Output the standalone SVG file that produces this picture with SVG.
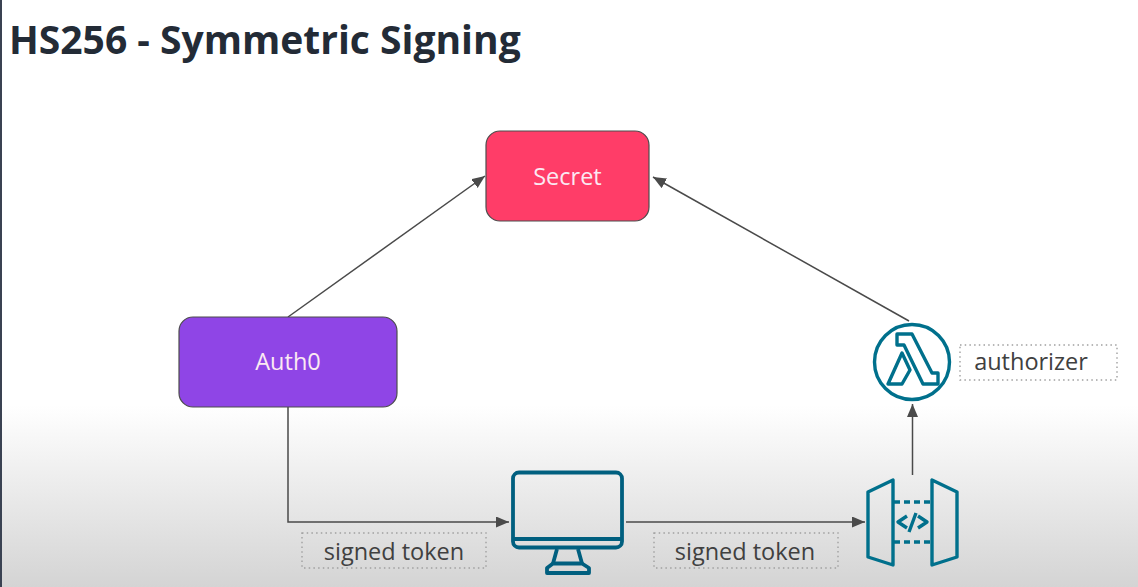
<svg xmlns="http://www.w3.org/2000/svg" width="1138" height="587" viewBox="0 0 1138 587">
<style>
.box{stroke:#4d4d4d;stroke-width:1.2}
.lbl{font-family:"Open Sans","Noto Sans",sans-serif;font-size:23.500px;text-anchor:middle}
.w{fill:#fbe9f2}
.d{fill:#404040}
.dot{fill:none;stroke:#a0a0a0;stroke-width:1.4;stroke-dasharray:1.5 3.2}
.ic{fill:none;stroke:#00708c;stroke-width:3.4;stroke-linejoin:round}
.ic2{fill:none;stroke:#005f7f;stroke-width:3.8;stroke-linejoin:round}
.c{fill:none;stroke:#4a4a4a;stroke-width:1.5;marker-end:url(#a)}
</style>
<defs>
<linearGradient id="bg" x1="0" y1="0" x2="0" y2="1"><stop offset="0" stop-color="#ffffff"/><stop offset="0.69" stop-color="#ffffff"/><stop offset="1" stop-color="#d4d4d4"/></linearGradient>
<marker id="a" markerUnits="userSpaceOnUse" markerWidth="14" markerHeight="12" refX="13" refY="5.500" orient="auto"><path d="M0 0L13 5.500L0 11Z" fill="#4a4a4a"/></marker>
</defs>
<rect width="1138" height="587" fill="url(#bg)"/>
<rect x="0" y="0" width="2" height="587" fill="#3a4252"/>
<text id="title" x="9" y="54" font-family="Open Sans,Noto Sans,sans-serif" font-weight="700" font-size="39px" fill="#232b36">HS256 - Symmetric Signing</text>
<g id="connectors">
<path class="c" d="M288 317L485 176"/>
<path class="c" d="M909 321L653 177"/>
<path class="c" d="M288 407V522H509"/>
<path class="c" d="M626 522H865"/>
<path class="c" d="M912.500 475V404"/>
</g>
<g id="secret"><rect class="box" x="486" y="131" width="163" height="90" rx="14" fill="#ff3d68"/><text class="lbl w" x="567.500" y="185">Secret</text></g>
<g id="auth0"><rect class="box" x="179" y="317" width="218" height="90" rx="14" fill="#8f45e6"/><text class="lbl w" x="288" y="370">Auth0</text></g>
<g id="lambda">
<circle class="ic" cx="912" cy="362" r="37.500"/>
<path class="ic" stroke-width="3" d="M897 334H912L932 373H938V384H923L904 345H897ZM902 353L910 370L902 384H888Z"/>
</g>
<g id="authorizer"><rect class="dot" x="960" y="345" width="157" height="35"/><text class="lbl d" x="1031" y="370">authorizer</text></g>
<g id="client">
<rect class="ic2" x="513" y="472.500" width="109" height="75" rx="6"/>
<path class="ic2" d="M513 539H622M557 549L553 563.500M578 549L582 563.500"/>
<path class="ic2" d="M553 563.500H582L589 568V573H547V568Z"/>
</g>
<g id="tok1"><rect class="dot" x="302" y="533" width="184" height="35"/><text class="lbl d" x="394" y="560">signed token</text></g>
<g id="tok2"><rect class="dot" x="654" y="533" width="184" height="35"/><text class="lbl d" x="745" y="560">signed token</text></g>
<g id="gateway">
<path class="ic" d="M893 480V565L868 557V492ZM932 480V565L957 557V492Z"/>
<path class="ic" stroke-dasharray="6 4" d="M894 502H931M894 542H931"/>
<path class="ic" stroke-width="3" d="M907 516L898 522L907 528M918 516L927 522L918 528M916 513L909 532"/>
</g>
</svg>
